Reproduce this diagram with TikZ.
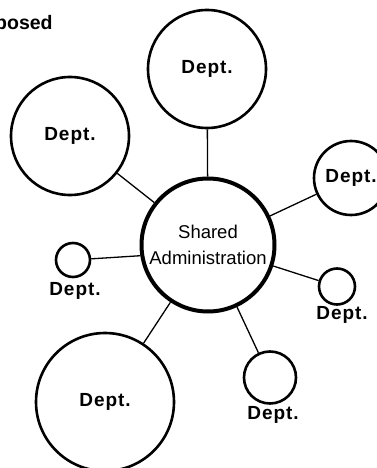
\documentclass[tikz,border=0pt]{standalone}
\usepackage{fontspec}
\setmainfont{Liberation Sans}
\newfontfamily\deptfont[LetterSpace=5]{Liberation Sans}
\begin{document}
\begin{tikzpicture}[x=1pt,y=-1pt,
  dept/.style={circle,draw,line width=2.6pt,inner sep=0pt,font=\deptfont\bfseries\fontsize{19}{21}\selectfont},
  deptlabel/.style={inner sep=0pt,font=\deptfont\bfseries\fontsize{19}{21}\selectfont},
  hub/.style={circle,draw,line width=4pt,inner sep=0pt,minimum size=133pt,align=center,font=\fontsize{18.5}{26}\selectfont},
  link/.style={line width=1.3pt}]
\useasboundingbox (0,0) rectangle (376,468);
\node[anchor=base west,inner sep=0pt,font=\bfseries\fontsize{19.5}{22}\selectfont] (title) at (-5,30) {posed};
\node[hub] (C) at (208,245) {Shared\\Administration};
\node[dept,minimum size=118pt] (top) at (207,69) {Dept.};
\node[dept,minimum size=118pt] (ul) at (70,136) {Dept.};
\node[dept,minimum size=74pt] (ur) at (351,178) {Dept.};
\node[dept,minimum size=138pt] (bl) at (105,402) {Dept.};
\node[dept,minimum size=34pt] (ls) at (73,260) {};
\node[dept,minimum size=36pt] (rs) at (337,286.5) {};
\node[dept,minimum size=52pt] (bs) at (270,377.5) {};
\node[deptlabel] (lsl) at (75,291) {Dept.};
\node[deptlabel] (rsl) at (342,315) {Dept.};
\node[deptlabel] (bsl) at (273,415) {Dept.};
\draw[link] (C) -- (top);
\draw[link] (C) -- (ul);
\draw[link] (C) -- (ur);
\draw[link] (C) -- (bl);
\draw[link] (C) -- (rs);
\draw[link] (C) -- (bs);
\draw[link] (ls) -- (C.189);
\end{tikzpicture}
\end{document}
